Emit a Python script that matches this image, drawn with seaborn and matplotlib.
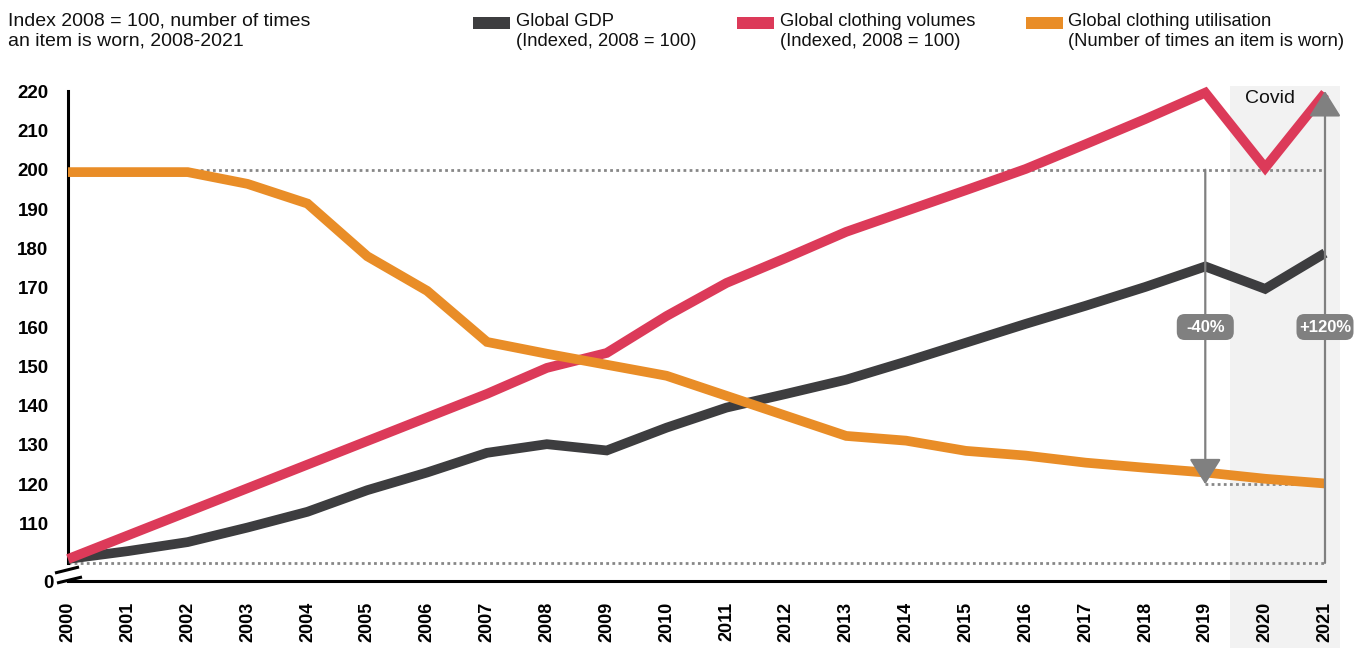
import matplotlib
matplotlib.use("Agg")
import matplotlib.pyplot as plt
import matplotlib.transforms as mtransforms
from matplotlib.patches import FancyBboxPatch, Rectangle
import pandas as pd
import seaborn as sns

# ---- data -------------------------------------------------------------
years = list(range(2000, 2022))
gdp = [101, 103, 105.3, 109, 113, 118.5, 123, 128, 130.2, 128.6, 134.4,
       139.5, 143, 146.6, 151.2, 156, 160.8, 165.4, 170.2, 175.4, 169.7, 178.8]
clothing_volumes = [101, 107, 113, 119, 125, 131, 137, 143, 149.6, 153.4, 162.8,
                    171.2, 177.6, 184.2, 189.5, 194.8, 200.2, 206.5, 212.9, 219.6,
                    200.5, 219.5]
clothing_utilisation = [199.4, 199.4, 199.4, 196.4, 191.4, 178, 169.2, 156.2, 153.2,
                        150.4, 147.6, 142.5, 137.4, 132.3, 131.1, 128.5, 127.3, 125.5,
                        124.2, 123, 121.4, 120.2]

series_names = ["Global GDP", "Global clothing volumes", "Global clothing utilisation"]
series_notes = ["(Indexed, 2008 = 100)", "(Indexed, 2008 = 100)",
                "(Number of times an item is worn)"]
series_colors = ["#3d3d3f", "#dc3a59", "#e98d27"]

y_ticks = [110, 120, 130, 140, 150, 160, 170, 180, 190, 200, 210, 220]
y_floor = 95.4          # where the broken axis shows "0"
index_base = 100
utilisation_start = 200
utilisation_end = 120
volume_peak = 220
change_level = 160
change_labels = ["-40%", "+120%"]
covid_start, covid_end = 2019.42, 2021.25
covid_label = "Covid"
title_text = "Index 2008 = 100, number of times\nan item is worn, 2008-2021"

df = pd.DataFrame({
    "year": years * 3,
    "value": gdp + clothing_volumes + clothing_utilisation,
    "series": [s for s in series_names for _ in years],
})

# ---- style ------------------------------------------------------------
sns.set_theme(style="white")
plt.rcParams["font.family"] = ["Liberation Sans", "DejaVu Sans"]

W, H = 1357, 648
fig = plt.figure(figsize=(W / 100, H / 100), dpi=100)
ax = fig.add_axes([68 / W, (H - 581) / H, (1325 - 68) / W, (581 - 86) / H])
ax.set_xlim(years[0], years[-1])
ax.set_ylim(y_floor, 221.3)

gray = "#808080"
dot_gray = "#878787"

# Covid period shading, running down through the year labels
ax.axvspan(covid_start, covid_end, ymin=-0.136, ymax=1.0, color="#f2f2f2",
           lw=0, zorder=0, clip_on=False)

# dotted reference levels
dotted = dict(color=dot_gray, lw=2.0, ls=(0, (1.0, 1.2)), zorder=1)
ax.plot([2002, years[-1]], [utilisation_start] * 2, **dotted)
ax.plot([years[0], years[-1]], [index_base] * 2, **dotted)
ax.plot([2019, years[-1]], [utilisation_end] * 2, **dotted)

# the three series
sns.lineplot(data=df, x="year", y="value", hue="series", hue_order=series_names,
             palette=dict(zip(series_names, series_colors)), linewidth=7,
             legend=False, ax=ax, solid_joinstyle="miter", solid_capstyle="butt",
             clip_on=False, zorder=3)

# change arrows
arrow_kw = dict(arrowstyle="-|>,head_length=0.8,head_width=0.5", color=gray,
                lw=1.6, shrinkA=0, shrinkB=0, mutation_scale=20)
ax.annotate("", xy=(2019, utilisation_end), xytext=(2019, utilisation_start),
            arrowprops=arrow_kw, zorder=5)
ax.annotate("", xy=(2021, volume_peak), xytext=(2021, index_base),
            arrowprops=arrow_kw, zorder=5)

# rounded value badges on the arrows
for x, label in zip([2019, 2021], change_labels):
    anchor = mtransforms.ScaledTranslation(x, change_level, ax.transData)
    badge = FancyBboxPatch((-0.285, -0.13), 0.57, 0.26,
                           boxstyle="round,pad=0,rounding_size=0.08",
                           transform=fig.dpi_scale_trans + anchor,
                           facecolor=gray, edgecolor="none", zorder=6,
                           clip_on=False)
    ax.add_patch(badge)
    ax.text(x, change_level, label, ha="center", va="center", color="white",
            fontsize=12, fontweight="bold", zorder=7)

ax.text(2020.08, 218.2, covid_label, ha="center", va="center", fontsize=14,
        color="#111111", zorder=4)

# axes
sns.despine(ax=ax)
for side in ["left", "bottom"]:
    ax.spines[side].set_color("black")
    ax.spines[side].set_linewidth(2.2)
ax.spines["left"].set_bounds(index_base, volume_peak)

ax.set_xticks(years)
ax.set_xticklabels([str(y) for y in years], rotation=90, fontweight="bold",
                   fontsize=13)
ax.set_yticks([y_floor] + y_ticks)
ax.set_yticklabels(["0"] + [str(v) for v in y_ticks], fontweight="bold",
                   fontsize=13.5)
ax.tick_params(axis="x", length=0, pad=15, colors="black")
ax.tick_params(axis="y", length=0, pad=14, colors="black")
ax.get_yticklabels()[0].set_transform(
    ax.get_yticklabels()[0].get_transform()
    + mtransforms.ScaledTranslation(0.05, 0, fig.dpi_scale_trans))
ax.set_xlabel("")
ax.set_ylabel("")
ax.grid(False)

# break marks on the value axis
origin = mtransforms.ScaledTranslation(years[0], y_floor, ax.transData)
brk = fig.dpi_scale_trans + origin
for (x0, y0), (x1, y1) in [((-0.13, 0.08), (0.11, 0.14)),
                           ((-0.11, -0.02), (0.14, 0.04))]:
    ax.plot([x0, x1], [y0, y1], color="black", lw=2.2, transform=brk,
            clip_on=False, zorder=4, solid_capstyle="butt")

# heading and legend
fig.text(8 / W, 1 - 13 / H, title_text, ha="left", va="top", fontsize=14,
         linespacing=1.2, color="#111111")
patch_x = [473, 737, 1026]
text_x = [516, 780, 1068]
for px, tx, name, note, color in zip(patch_x, text_x, series_names,
                                     series_notes, series_colors):
    fig.add_artist(Rectangle((px / W, 1 - 29 / H), 37 / W, 12 / H,
                             transform=fig.transFigure, facecolor=color,
                             edgecolor="none"))
    fig.text(tx / W, 1 - 13 / H, name + "\n" + note, ha="left", va="top",
             fontsize=13.2, linespacing=1.2, color="#111111")

fig.savefig("out.png", dpi=100)
